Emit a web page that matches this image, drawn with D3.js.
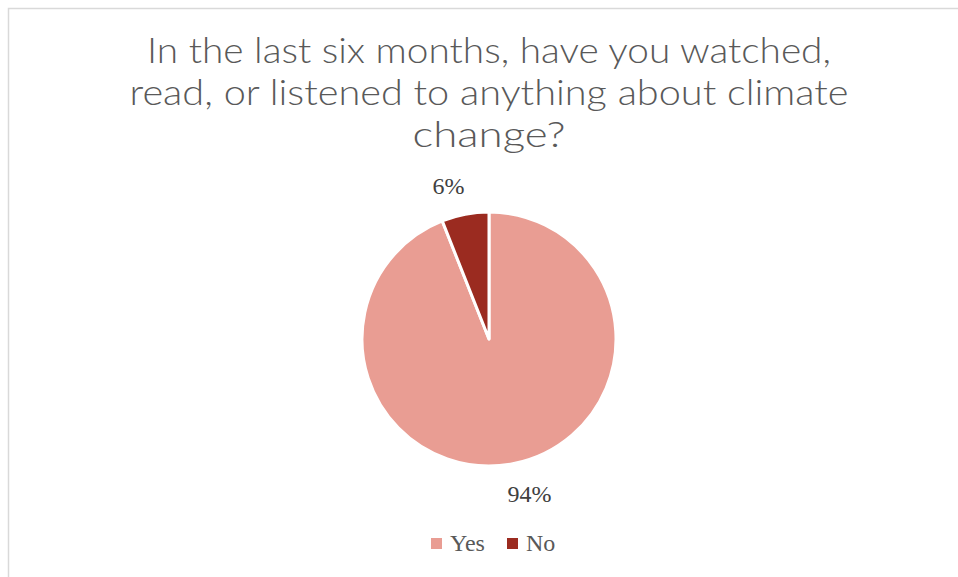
<!DOCTYPE html>
<html>
<head>
<meta charset="utf-8">
<script src="https://cdn.jsdelivr.net/npm/d3@7"></script>
<style>
  body { margin: 0; background: #fff; }
  svg { display: block; }
</style>
</head>
<body>
<div id="chart"></div>
<script>
var width = 958, height = 577;

// data
var categories = ["Yes", "No"];
var values = [94, 6];
var labels = ["94%", "6%"];
var colors = ["#e99d93", "#9b2b20"];
var titleLines = [
  "In the last six months, have you watched,",
  "read, or listened to anything about climate",
  "change?"
];
var titleWidths = [684, 719, 153]; // measured span of each title line

var cx = 489, cy = 339, radius = 127;

var svg = d3.select("#chart").append("svg")
  .attr("width", width)
  .attr("height", height);

// chart border
svg.append("rect")
  .attr("x", 8.5).attr("y", 8.5)
  .attr("width", width).attr("height", height)
  .attr("fill", "#fff")
  .attr("stroke", "#d9d9d9")
  .attr("stroke-width", 1.5);

// title
svg.selectAll(".title")
  .data(titleLines)
  .enter().append("text")
  .attr("class", "title")
  .attr("x", cx)
  .attr("y", function (d, i) { return 63 + i * 42; })
  .attr("text-anchor", "middle")
  .attr("textLength", function (d, i) { return titleWidths[i]; })
  .attr("lengthAdjust", "spacingAndGlyphs")
  .style("font-family", "Lato, 'Open Sans', sans-serif")
  .style("font-weight", 300)
  .style("font-size", "35px")
  .style("fill", "#595959")
  .text(function (d) { return d; });

var pie = d3.pie().sort(null).value(function (d) { return d; });
var arcs = pie(values);

var arc = d3.arc().innerRadius(0).outerRadius(radius);
var labelArc = d3.arc().innerRadius(157).outerRadius(157);

var g = svg.append("g")
  .attr("transform", "translate(" + cx + "," + cy + ")");

g.selectAll(".slice")
  .data(arcs)
  .enter().append("path")
  .attr("class", "slice")
  .attr("d", arc)
  .attr("fill", function (d, i) { return colors[i]; })
  .attr("stroke", "#fff")
  .attr("stroke-width", 3)
  .attr("stroke-linejoin", "round");

// data labels
g.selectAll(".label")
  .data(arcs)
  .enter().append("text")
  .attr("class", "label")
  .attr("x", function (d) {
    var c = labelArc.centroid(d);
    return c[0] + (c[0] < 0 ? -11 : 11);
  })
  .attr("y", function (d) { return labelArc.centroid(d)[1] + 9; })
  .attr("text-anchor", "middle")
  .style("font-family", "'Liberation Serif', serif")
  .style("font-size", "24px")
  .style("fill", "#404040")
  .text(function (d, i) { return labels[i]; });

// legend
var legendX = [431, 507];
var legend = svg.selectAll(".legend")
  .data(categories)
  .enter().append("g")
  .attr("class", "legend")
  .attr("transform", function (d, i) { return "translate(" + legendX[i] + ",538)"; });

legend.append("rect")
  .attr("width", 11)
  .attr("height", 11)
  .attr("fill", function (d, i) { return colors[i]; });

legend.append("text")
  .attr("x", 19)
  .attr("y", 13)
  .style("font-family", "'Liberation Serif', serif")
  .style("font-size", "24px")
  .style("fill", "#595959")
  .text(function (d) { return d; });
</script>
</body>
</html>
